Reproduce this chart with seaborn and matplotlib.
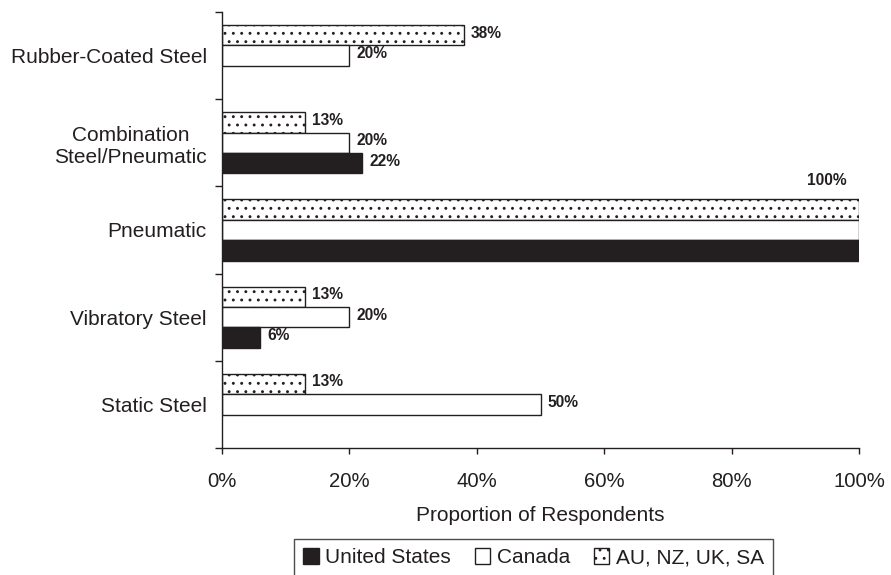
import numpy as np
import pandas as pd
import matplotlib
matplotlib.use("Agg")
import matplotlib.pyplot as plt
import seaborn as sns
from matplotlib.patches import Patch
from matplotlib.ticker import FixedLocator, PercentFormatter

# Roller types, listed top to bottom
categories = [
    "Rubber-Coated Steel",
    "Combination\nSteel/Pneumatic",
    "Pneumatic",
    "Vibratory Steel",
    "Static Steel",
]
# Share of respondents (%) using each roller type, by region
au_values = [38, 13, 100, 13, 13]
canada_values = [20, 20, 100, 20, 50]
us_values = [np.nan, 22, 100, 6, np.nan]

region_au = "AU, NZ, UK, SA"
region_ca = "Canada"
region_us = "United States"
legend_order = [region_us, region_ca, region_au]
bar_order = [region_au, region_ca, region_us]  # top to bottom within a group

x_ticks = [0, 20, 40, 60, 80, 100]
x_label = "Proportion of Respondents"

ink = "#231f20"
colors = {region_au: "white", region_ca: "white", region_us: ink}
hatches = {region_au: "..", region_ca: "", region_us: ""}

rows = []
for region, vals in [(region_au, au_values), (region_ca, canada_values), (region_us, us_values)]:
    for cat, v in zip(categories, vals):
        rows.append({"category": cat, "region": region, "value": v})
df = pd.DataFrame(rows).dropna()

sns.set_theme(style="white")
plt.rcParams["font.family"] = ["Liberation Sans", "DejaVu Sans"]
plt.rcParams["hatch.color"] = ink
plt.rcParams["hatch.linewidth"] = 0.9

fig = plt.figure(figsize=(8.91, 5.75), dpi=100)
ax = fig.add_axes([222 / 891, 1 - 448 / 575, (859 - 222) / 891, (448 - 12) / 575])

sns.barplot(
    data=df, y="category", x="value", hue="region",
    order=categories, hue_order=bar_order, palette=colors,
    orient="h", width=0.7, saturation=1, errorbar=None,
    edgecolor=ink, linewidth=1.0, legend=False, ax=ax,
)

for region, container in zip(bar_order, ax.containers):
    for bar in container:
        bar.set_hatch(hatches[region])

# value labels
for ci, container in enumerate(ax.containers):
    for bar in container:
        w = bar.get_width()
        if not np.isfinite(w):
            continue
        yc = bar.get_y() + bar.get_height() / 2
        if w >= 100:
            if ci == 0:
                ax.annotate(f"{w:.0f}%", xy=(w, bar.get_y()), xytext=(-9, 8),
                            textcoords="offset points", ha="right", va="bottom",
                            fontsize=11.2, fontweight="bold", color=ink,
                            annotation_clip=False)
            continue
        ax.annotate(f"{w:.0f}%", xy=(w, yc), xytext=(5, 1.5),
                    textcoords="offset points", ha="left", va="center",
                    fontsize=11.2, fontweight="bold", color=ink)

ax.set_xlim(0, 100)
ax.set_ylim(len(categories) - 0.5, -0.5)
ax.xaxis.set_major_locator(FixedLocator(x_ticks))
ax.xaxis.set_major_formatter(PercentFormatter(decimals=0))
ax.yaxis.set_minor_locator(FixedLocator(np.arange(-0.5, len(categories), 1.0)))

ax.tick_params(axis="x", which="major", direction="out", length=4, width=1,
               color=ink, labelsize=14.6, pad=13, labelcolor=ink, bottom=True)
ax.tick_params(axis="y", which="major", length=0, labelsize=15, pad=11, labelcolor=ink)
ax.tick_params(axis="y", which="minor", direction="out", length=5, width=1,
               color=ink, left=True)
for lbl in ax.get_yticklabels():
    lbl.set_multialignment("center")

ax.set_ylabel("")
ax.set_xlabel(x_label, fontsize=15, color=ink, labelpad=11)

for side in ["top", "right"]:
    ax.spines[side].set_visible(False)
for side in ["left", "bottom"]:
    ax.spines[side].set_color(ink)
    ax.spines[side].set_linewidth(1.0)

handles = [
    Patch(facecolor=colors[r], edgecolor=ink, hatch=hatches[r], linewidth=1.0, label=r)
    for r in legend_order
]
leg = fig.legend(
    handles=handles, loc="upper center", bbox_to_anchor=(533.5 / 891, 1 - 539 / 575),
    ncol=3, frameon=True, fancybox=False, fontsize=15,
    handlelength=0.75, handleheight=0.75, handletextpad=0.3,
    columnspacing=1.15, borderpad=0.45, borderaxespad=0,
)
leg.get_frame().set_edgecolor(ink)
leg.get_frame().set_linewidth(1.0)
for t in leg.get_texts():
    t.set_color(ink)

fig.savefig("out.png", dpi=100)
